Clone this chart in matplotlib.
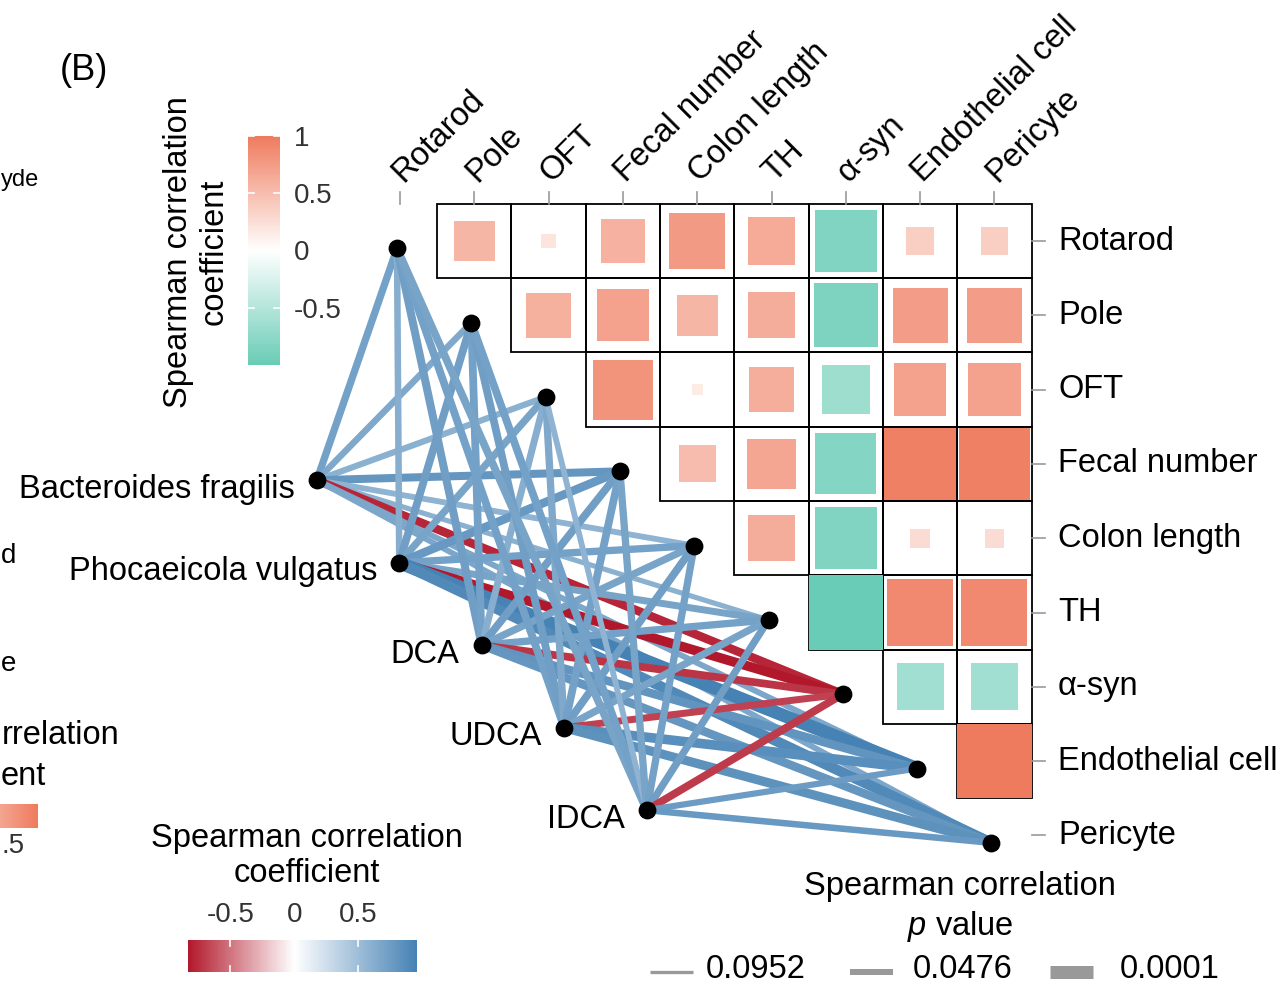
import numpy as np
import matplotlib

matplotlib.use("Agg")
import matplotlib.pyplot as plt
from matplotlib.colorbar import ColorbarBase
from matplotlib.colors import LinearSegmentedColormap, Normalize
from matplotlib.patches import Rectangle

plt.rcParams["font.family"] = ["Liberation Sans", "DejaVu Sans"]
plt.rcParams["mathtext.fontset"] = "custom"
plt.rcParams["mathtext.it"] = "Liberation Sans:italic"
plt.rcParams["mathtext.rm"] = "Liberation Sans"

PHENOTYPES = [
    "Rotarod", "Pole", "OFT", "Fecal number", "Colon length",
    "TH", "α-syn", "Endothelial cell", "Pericyte",
]
TAXA = [
    "Bacteroides fragilis", "Phocaeicola vulgatus", "DCA", "UDCA", "IDCA",
]

# upper triangle of the phenotype correlation matrix, row i holds columns i+1..
PHENO_R = [
    [0.55, 0.20, 0.59, 0.76, 0.64, -0.84, 0.37, 0.37],
    [0.60, 0.70, 0.55, 0.62, -0.86, 0.74, 0.74],
    [0.81, 0.15, 0.61, -0.65, 0.71, 0.71],
    [0.50, 0.67, -0.82, 0.96, 0.96],
    [0.62, -0.83, 0.26, 0.26],
    [-1.00, 0.89, 0.89],
    [-0.63, -0.63],
    [1.00],
]

# taxa / bile acids vs phenotypes
LINK_R = [
    [0.72, 0.66, 0.60, 0.80, 0.58, 0.60, -0.78, 0.68, 0.68],
    [0.62, 0.74, 0.70, 0.78, 0.72, 0.70, -0.83, 0.96, 0.90],
    [0.74, 0.72, 0.62, 0.74, 0.70, 0.72, -0.72, 0.82, 0.80],
    [0.72, 0.74, 0.66, 0.72, 0.74, 0.70, -0.68, 0.86, 0.84],
    [0.70, 0.72, 0.58, 0.70, 0.72, 0.74, -0.70, 0.76, 0.78],
]
LINK_P = [
    [0.015, 0.030, 0.040, 0.008, 0.050, 0.060, 0.005, 0.050, 0.050],
    [0.030, 0.010, 0.015, 0.005, 0.015, 0.020, 0.002, 0.0001, 0.001],
    [0.008, 0.010, 0.020, 0.010, 0.015, 0.015, 0.010, 0.005, 0.005],
    [0.010, 0.010, 0.015, 0.010, 0.010, 0.015, 0.020, 0.002, 0.003],
    [0.010, 0.010, 0.050, 0.015, 0.015, 0.015, 0.010, 0.040, 0.030],
]

P_BREAKS = [0.0952, 0.0476, 0.0001]
SQ_TICKS = [-0.5, 0, 0.5, 1]
LINK_TICKS = [-0.5, 0, 0.5]

W, H = 1281, 984
CELL = 74.3
X0, Y0 = 400, 241


def ux(px):
    return (px - X0) / CELL


def uy(py):
    return (py - Y0) / CELL


def link_width(p):
    px = np.interp(-np.log10(p), [1.02, 1.32, 4.0], [3.3, 6.0, 13.0])
    return px * 0.72


sq_cmap = LinearSegmentedColormap.from_list(
    "sq", ["#69CCB6", "#FFFFFF", "#EF7B5E"]
)
sq_norm = Normalize(-1, 1)

link_lo = min(min(r) for r in LINK_R)
link_hi = max(max(r) for r in LINK_R)
mid = -link_lo / (link_hi - link_lo)
link_cmap = LinearSegmentedColormap.from_list(
    "lk", [(0, "#B2182B"), (mid, "#FFFFFF"), (1, "#4682B4")]
)
link_norm = Normalize(link_lo, link_hi)

fig = plt.figure(figsize=(W / 100, H / 100), dpi=100)
ax = fig.add_axes([0, 0, 1, 1])
ax.set_xlim(ux(0), ux(W))
ax.set_ylim(uy(H), uy(0))
ax.axis("off")

n = len(PHENOTYPES)

# correlation squares
for i in range(n):
    for j in range(i + 1, n):
        ax.add_patch(Rectangle((j - 0.5, i - 0.5), 1, 1, fc="none",
                               ec="black", lw=1.3, zorder=1))
for i in range(n):
    for j in range(i + 1, n):
        r = PHENO_R[i][j - i - 1]
        s = abs(r)
        ax.add_patch(Rectangle((j - s / 2, i - s / 2), s, s,
                               fc=sq_cmap(sq_norm(r)), ec="none", zorder=2))

# axis ticks and labels of the matrix
for k, name in enumerate(PHENOTYPES):
    ax.plot([k, k], [uy(192), uy(204)], color="#999999", lw=1.2, zorder=1)
    ax.text(k + 0.04, uy(183), name, rotation=45, rotation_mode="anchor",
            ha="left", va="baseline", fontsize=23.5)
    ax.plot([ux(1032), ux(1045)], [k, k], color="#999999", lw=1.2, zorder=1)
    ax.text(ux(1058), k, name, ha="left", va="center", fontsize=23.5)

# network links
right_nodes = [(k - 0.04, k + 0.1) for k in range(n)]
left_nodes = [(-1.12 + 1.11 * t, 3.22 + 1.11 * t) for t in range(len(TAXA))]

for t, (lx, ly) in enumerate(left_nodes):
    for k, (rx, ry) in enumerate(right_nodes):
        ax.plot([lx, rx], [ly, ry], color=link_cmap(link_norm(LINK_R[t][k])),
                lw=link_width(LINK_P[t][k]), solid_capstyle="butt", zorder=3)

ax.scatter([p[0] for p in right_nodes + left_nodes],
           [p[1] for p in right_nodes + left_nodes],
           s=140, color="black", zorder=5)

for t, (lx, ly) in enumerate(left_nodes):
    ax.text(lx - 0.3, ly + 0.12, TAXA[t], ha="right", va="center",
            fontsize=23.5)

# p value legend
ax.text(ux(960), uy(886), "Spearman correlation", ha="center", va="center",
        fontsize=23.5)
ax.text(ux(960), uy(926), "$p$ value", ha="center", va="center",
        fontsize=23.5)
for k, p in enumerate(P_BREAKS):
    x_start = 650 + 200 * k
    ax.plot([ux(x_start), ux(x_start + 43)], [uy(972), uy(972)],
            color="#999999", lw=link_width(p), solid_capstyle="butt")
    ax.text(ux(x_start + 56 + 7 * k), uy(969), f"{p:.4f}", ha="left",
            va="center", fontsize=23.5)

# panel label and what remains of the neighbouring panel on the left
ax.text(ux(84), uy(71), "(B)", ha="center", va="center", fontsize=26)
ax.text(ux(1), uy(180), "yde", ha="left", va="center", fontsize=17)
ax.text(ux(1), uy(556), "d", ha="left", va="center", fontsize=20)
ax.text(ux(1), uy(664), "e", ha="left", va="center", fontsize=20)
ax.text(ux(120), uy(736), "rrelation", ha="right", va="center",
        fontsize=23.5)
ax.text(ux(1), uy(776), "ent", ha="left", va="center", fontsize=23.5)
grad = np.linspace(-1, 1, 256).reshape(1, -1)
ax.imshow(grad, cmap=sq_cmap, norm=sq_norm, aspect="auto",
          extent=[ux(-198), ux(38), uy(828), uy(804)], zorder=1)
ax.text(ux(1), uy(846), ".5", ha="left", va="center", fontsize=20,
        color="#333333")

# colour bar of the matrix
cax1 = fig.add_axes([248 / W, 1 - 365 / H, 32 / W, 229 / H])
cb1 = ColorbarBase(cax1, cmap=sq_cmap, norm=sq_norm, orientation="vertical",
                   ticks=SQ_TICKS)
cb1.outline.set_visible(False)
cax1.tick_params(length=0, pad=10, labelsize=20, labelcolor="#333333")
cax1.set_yticklabels([f"{v:g}" for v in SQ_TICKS])
for v in SQ_TICKS:
    cax1.plot([0, 0.2], [v, v], color="white", lw=1.2,
              transform=cax1.get_yaxis_transform())
    cax1.plot([0.8, 1], [v, v], color="white", lw=1.2,
              transform=cax1.get_yaxis_transform())
fig.text(196 / W, 1 - 252 / H, "Spearman correlation\ncoefficient",
         rotation=90, ha="center", va="center", multialignment="center",
         fontsize=23.5)

# colour bar of the links
cax2 = fig.add_axes([188 / W, 1 - 972 / H, 229 / W, 32 / H])
cb2 = ColorbarBase(cax2, cmap=link_cmap, norm=link_norm,
                   orientation="horizontal", ticks=LINK_TICKS)
cb2.outline.set_visible(False)
cax2.xaxis.set_ticks_position("top")
cax2.tick_params(length=0, pad=9, labelsize=20, labelcolor="#333333")
cax2.set_xticklabels([f"{v:g}" for v in LINK_TICKS])
for v in LINK_TICKS:
    cax2.plot([v, v], [0, 0.2], color="white", lw=1.2,
              transform=cax2.get_xaxis_transform())
    cax2.plot([v, v], [0.8, 1], color="white", lw=1.2,
              transform=cax2.get_xaxis_transform())
fig.text(307 / W, 1 - 856 / H, "Spearman correlation\ncoefficient",
         ha="center", va="center", multialignment="center", fontsize=23.5)

fig.savefig("out.png", dpi=100)
